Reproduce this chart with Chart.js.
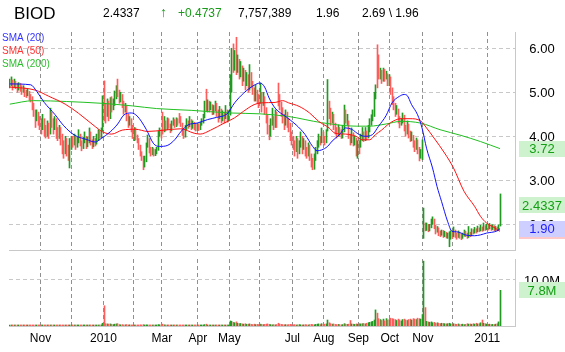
<!DOCTYPE html>
<html>
<head>
<meta charset="utf-8">
<script src="https://cdn.jsdelivr.net/npm/chart.js@4.4.1/dist/chart.umd.min.js"></script>
<style>
    html, body { margin: 0; padding: 0; background: #fff; }
    #wrap { position: relative; width: 565px; height: 352px; overflow: hidden; }
    #wrap canvas { position: absolute; left: 0; top: 0; }
</style>
</head>
<body>
<div id="wrap">
    <canvas id="priceChart" width="565" height="352"></canvas>
    <canvas id="volumeChart" width="565" height="352"></canvas>
</div>
<script>
// BIOD daily bars, Oct 2009 - Jan 2011 (one entry per trading day)

const ticker = "BIOD";
const lastPrice = "2.4337";
const lastChange = "+0.4737";
const lastVolume = "7,757,389";
const prevClose = "1.96";
const dayRange = "2.69 \\ 1.96";

// first trading day of each month (index into the bar arrays) and its label
const monthIdx = [21, 42, 63, 83, 102, 126, 147, 167, 189, 210, 233, 254, 276, 296, 319];
const monthLabels = ["Nov", "", "2010", "", "Mar", "Apr", "May", "", "Jul", "Aug", "Sep", "Oct", "Nov", "", "2011"];
const priceTicks = [2, 3, 4, 5, 6];
const volumeTicks = [10];

const opens = [
    5.15,5.20,5.25,5.15,5.22,5.18,5.10,5.16,5.12,5.05,5.08,4.98,4.95,5.00,4.90,4.85,4.70,4.55,4.40,4.48,4.35,
    4.30,4.20,4.35,4.15,4.05,4.25,4.10,4.45,4.30,4.20,4.35,4.15,4.00,4.10,3.95,3.80,3.65,3.85,3.70,3.60,3.75,
    3.90,3.85,3.95,3.80,3.90,4.00,3.85,3.75,3.90,3.95,3.80,3.90,4.05,3.85,3.80,3.90,3.85,3.95,4.05,4.00,4.15,5.00,
    4.60,4.50,4.70,4.50,4.80,4.65,4.75,4.90,5.05,4.95,4.85,4.90,4.75,4.60,4.65,4.45,4.30,4.35,4.20,4.10,
    4.15,4.00,3.90,3.75,3.60,3.50,3.35,3.45,3.80,3.90,3.70,3.65,3.70,3.60,3.65,3.70,4.05,4.10,4.45,
    4.15,4.30,4.20,4.35,4.25,4.15,4.30,4.35,4.25,4.38,4.48,4.40,4.28,4.10,4.00,4.20,4.30,4.25,4.35,4.20,4.30,4.25,4.18,
    4.22,4.20,4.28,4.35,4.45,4.95,4.60,4.75,4.65,4.70,4.55,4.62,4.70,4.55,4.45,4.60,4.40,4.50,4.45,4.55,4.40,
    4.50,5.30,5.90,5.60,5.80,5.50,5.65,5.40,5.55,5.30,5.45,5.20,5.35,5.10,5.40,5.20,5.05,4.85,5.00,4.90,
    4.80,4.95,4.75,4.85,4.60,4.45,4.20,4.05,4.30,4.40,4.25,4.50,5.10,4.90,4.75,4.55,4.45,4.30,4.50,4.35,4.25,4.05,
    3.95,3.85,3.70,3.90,3.65,3.80,3.95,3.75,3.85,3.70,3.60,3.75,3.55,3.45,3.40,3.50,3.65,3.80,3.95,3.90,4.05,3.95,
    3.90,4.15,4.75,4.50,4.35,4.45,4.25,4.15,4.05,4.15,4.10,4.00,4.12,4.55,4.30,4.30,4.00,3.90,4.05,3.85,3.95,3.70,
    3.85,3.80,3.95,4.05,3.95,4.10,4.00,4.15,4.30,4.40,4.50,4.90,5.95,5.80,5.40,5.45,5.30,5.50,5.35,5.40,5.25,5.30,
    5.05,4.85,4.70,4.55,4.60,4.40,4.30,4.35,4.45,4.20,4.10,4.25,4.05,3.95,4.00,3.85,3.75,3.90,3.70,3.55,3.65,
    1.80,2.00,1.90,1.97,1.88,1.95,2.05,2.10,1.95,1.85,1.90,1.80,1.78,1.85,1.75,1.80,1.72,1.62,1.70,1.80,1.75,
    1.82,1.78,1.72,1.80,1.76,1.70,1.75,1.82,1.78,1.72,1.80,1.76,1.85,1.82,1.88,1.84,1.90,1.86,1.92,1.88,1.95,1.90,
    1.96,1.92,1.98,1.90,1.95,1.88,1.92,1.87,1.98
];

const highs = [
    5.30,5.35,5.28,5.30,5.25,5.20,5.22,5.20,5.15,5.15,5.10,5.05,5.08,5.02,4.95,4.90,4.75,4.60,4.60,4.55,4.45,
    4.40,4.50,4.40,4.25,4.35,4.30,4.64,4.55,4.40,4.45,4.40,4.20,4.25,4.20,4.05,3.90,4.00,3.95,3.80,3.95,4.00,
    4.00,4.05,4.00,3.98,4.15,4.05,3.90,3.98,4.10,4.00,3.98,4.19,4.10,3.92,4.00,3.95,4.05,4.15,4.12,4.19,4.92,5.26,
    4.75,4.85,4.80,4.88,4.90,4.85,5.03,5.15,5.30,5.05,5.00,4.95,4.80,4.75,4.70,4.50,4.45,4.40,4.25,4.20,
    4.19,4.03,3.95,3.80,3.65,3.55,3.55,3.85,4.03,3.95,3.75,3.75,3.72,3.70,3.75,4.12,4.19,4.15,4.55,
    4.45,4.35,4.42,4.40,4.28,4.35,4.42,4.38,4.42,4.40,4.52,4.45,4.30,4.15,4.25,4.40,4.35,4.45,4.38,4.35,4.32,4.28,4.30,
    4.28,4.32,4.40,4.50,4.80,5.07,4.83,4.80,4.78,4.72,4.70,4.80,4.75,4.60,4.68,4.62,4.58,4.55,4.70,4.60,4.58,
    5.40,6.00,6.10,5.95,6.25,5.85,5.75,5.70,5.60,5.55,5.50,5.45,5.40,5.63,5.45,5.25,5.10,5.17,5.05,4.95,
    5.21,5.00,5.00,4.90,4.65,4.50,4.25,4.40,4.64,4.45,4.60,4.55,5.21,4.95,4.78,4.65,4.50,4.60,4.55,4.40,4.30,4.10,
    4.00,3.90,4.00,3.95,3.90,4.10,4.00,3.95,3.90,3.75,3.85,3.80,3.60,3.50,3.60,3.75,3.90,4.05,4.00,4.19,4.10,4.00,
    4.15,5.29,4.80,4.64,4.55,4.50,4.30,4.20,4.26,4.20,4.15,4.25,4.71,4.60,4.50,4.35,4.05,4.19,4.08,4.00,3.96,3.90,
    3.90,4.05,4.20,4.10,4.20,4.12,4.25,4.40,4.49,4.60,5.00,5.17,6.08,5.85,5.55,5.50,5.55,5.52,5.48,5.42,5.40,5.35,
    5.10,4.90,4.75,4.70,4.62,4.45,4.40,4.53,4.48,4.25,4.35,4.28,4.12,4.10,4.02,3.90,3.96,3.92,3.75,3.70,3.92,
    2.37,2.03,2.03,2.00,2.00,2.12,2.17,2.12,1.98,1.95,1.92,1.85,1.87,1.86,1.84,1.82,1.80,1.83,1.85,1.83,1.94,
    1.87,1.80,1.85,1.82,1.78,1.80,1.87,1.84,1.80,1.95,1.82,1.90,1.88,1.93,1.90,1.96,1.92,1.98,1.94,2.03,1.97,2.00,
    1.99,2.02,1.99,1.99,1.97,1.95,1.94,1.99,2.69
];

const lows = [
    5.10,5.15,5.05,5.12,5.08,5.00,5.05,5.02,4.95,5.00,4.90,4.88,4.92,4.82,4.78,4.60,4.45,4.20,4.35,4.25,4.15,
    4.05,4.15,4.00,3.96,4.00,3.95,4.05,4.20,4.05,4.15,3.95,3.90,3.95,3.80,3.60,3.50,3.60,3.55,3.45,3.28,3.70,
    3.75,3.80,3.70,3.75,3.85,3.78,3.67,3.72,3.85,3.72,3.76,3.85,3.80,3.72,3.76,3.78,3.82,3.90,3.95,3.96,4.12,4.35,
    4.30,4.45,4.35,4.40,4.55,4.60,4.70,4.85,4.90,4.75,4.78,4.65,4.50,4.55,4.35,4.20,4.25,4.10,3.95,3.90,
    3.92,3.85,3.70,3.55,3.45,3.24,3.30,3.42,3.75,3.62,3.55,3.58,3.55,3.56,3.60,3.68,4.00,3.96,4.05,
    4.10,4.12,4.15,4.18,4.08,4.12,4.25,4.20,4.22,4.25,4.30,4.22,4.02,3.95,3.98,4.15,4.18,4.22,4.15,4.18,4.15,4.12,4.13,
    4.13,4.15,4.25,4.30,4.42,4.57,4.55,4.55,4.60,4.49,4.50,4.58,4.45,4.32,4.40,4.30,4.35,4.30,4.40,4.32,4.35,
    4.48,5.00,5.45,5.50,5.40,5.45,5.30,5.35,5.15,5.25,5.05,5.15,5.00,5.05,5.10,4.95,4.80,4.80,4.75,4.65,
    4.75,4.55,4.70,4.50,4.30,4.05,3.92,4.00,4.25,4.15,4.20,4.20,4.69,4.60,4.45,4.30,4.15,4.25,4.20,4.10,3.90,3.80,
    3.70,3.55,3.65,3.50,3.60,3.75,3.60,3.70,3.55,3.50,3.55,3.45,3.30,3.24,3.25,3.45,3.60,3.75,3.80,3.85,3.85,3.80,
    3.85,4.12,4.40,4.25,4.30,4.15,4.05,3.96,4.00,4.00,3.95,3.96,4.10,4.30,4.25,3.95,3.80,3.85,3.78,3.80,3.55,3.50,
    3.60,3.75,3.90,3.88,3.90,3.92,3.96,4.10,4.25,4.35,4.45,4.85,5.10,5.30,5.30,5.20,5.25,5.25,5.30,5.15,5.15,4.95,
    4.72,4.60,4.45,4.50,4.30,4.19,4.25,4.30,4.12,4.00,4.05,3.96,3.88,3.90,3.75,3.65,3.70,3.60,3.44,3.50,3.47,
    1.68,1.85,1.86,1.83,1.85,1.92,2.00,1.90,1.78,1.82,1.74,1.72,1.75,1.70,1.72,1.69,1.68,1.49,1.66,1.68,1.72,
    1.70,1.66,1.70,1.68,1.65,1.68,1.73,1.72,1.68,1.70,1.72,1.74,1.78,1.80,1.80,1.83,1.83,1.85,1.84,1.86,1.86,1.88,
    1.87,1.90,1.86,1.88,1.85,1.86,1.85,1.86,1.96
];

const closes = [
    5.20,5.25,5.15,5.22,5.18,5.10,5.16,5.12,5.05,5.08,4.98,4.95,5.00,4.90,4.85,4.70,4.55,4.40,4.48,4.35,4.30,
    4.20,4.35,4.15,4.05,4.25,4.10,4.45,4.30,4.20,4.35,4.15,4.00,4.10,3.95,3.80,3.65,3.85,3.70,3.60,3.75,3.90,
    3.85,3.95,3.80,3.90,4.00,3.85,3.75,3.90,3.95,3.80,3.90,4.05,3.85,3.80,3.90,3.85,3.95,4.05,4.00,4.10,4.85,4.60,
    4.50,4.70,4.55,4.80,4.65,4.75,4.90,5.05,4.95,4.85,4.90,4.75,4.60,4.65,4.45,4.30,4.35,4.20,4.10,4.15,
    4.00,3.90,3.75,3.60,3.50,3.35,3.45,3.80,3.90,3.70,3.65,3.70,3.60,3.65,3.70,4.05,4.10,4.00,4.15,
    4.30,4.20,4.35,4.25,4.15,4.30,4.35,4.25,4.38,4.30,4.40,4.28,4.10,4.00,4.20,4.30,4.25,4.35,4.20,4.30,4.25,4.18,4.22,
    4.20,4.28,4.35,4.45,4.70,4.60,4.75,4.65,4.70,4.55,4.62,4.70,4.55,4.45,4.60,4.40,4.50,4.45,4.55,4.40,4.50,
    5.30,5.90,5.60,5.75,5.50,5.65,5.40,5.55,5.30,5.45,5.20,5.35,5.10,5.40,5.20,5.05,4.85,5.00,4.90,4.80,
    4.95,4.75,4.85,4.60,4.45,4.20,4.05,4.30,4.40,4.25,4.50,4.35,4.90,4.75,4.55,4.45,4.30,4.50,4.35,4.25,4.05,3.95,
    3.85,3.70,3.90,3.65,3.80,3.95,3.75,3.85,3.70,3.60,3.75,3.55,3.45,3.40,3.50,3.65,3.80,3.95,3.90,4.05,3.95,3.90,
    4.10,4.75,4.50,4.35,4.45,4.25,4.15,4.05,4.15,4.10,4.00,4.12,4.55,4.40,4.30,4.00,3.90,4.05,3.85,3.95,3.70,3.85,
    3.80,3.95,4.05,3.95,4.10,4.00,4.15,4.30,4.40,4.50,4.90,5.10,5.80,5.40,5.45,5.30,5.50,5.35,5.40,5.25,5.30,5.05,
    4.85,4.70,4.55,4.60,4.40,4.30,4.35,4.45,4.20,4.10,4.25,4.05,3.95,4.00,3.85,3.75,3.90,3.70,3.55,3.65,3.85,
    2.00,1.92,1.97,1.88,1.95,2.05,2.10,1.95,1.85,1.90,1.80,1.78,1.85,1.75,1.80,1.72,1.76,1.70,1.80,1.75,1.82,
    1.78,1.72,1.80,1.76,1.70,1.75,1.82,1.78,1.72,1.80,1.76,1.85,1.82,1.88,1.84,1.90,1.86,1.92,1.88,1.95,1.90,1.96,
    1.92,1.98,1.90,1.95,1.88,1.92,1.87,1.96,2.4337
];

// volume in millions of shares
const volumes = [
    0.10,0.08,0.12,0.06,0.10,0.05,0.08,0.10,0.12,0.06,0.08,0.10,0.15,0.08,0.10,0.12,0.15,0.20,0.10,0.12,0.15,
    0.12,0.10,0.08,0.10,0.12,0.08,0.15,0.10,0.08,0.10,0.12,0.10,0.08,0.10,0.12,0.15,0.10,0.12,0.15,0.20,0.15,
    0.12,0.10,0.15,0.10,0.08,0.12,0.10,0.15,0.12,0.10,0.08,0.12,0.10,0.12,0.15,0.10,0.12,0.20,0.15,0.25,0.60,4.40,
    0.50,0.45,0.40,0.45,0.35,0.30,0.40,0.45,0.50,0.30,0.25,0.30,0.20,0.25,0.30,0.20,0.25,0.20,0.15,0.20,
    0.20,0.15,0.20,0.25,0.20,0.30,0.15,0.25,0.20,0.15,0.12,0.10,0.12,0.10,0.15,0.30,0.25,0.20,0.40,
    0.25,0.20,0.15,0.12,0.10,0.12,0.15,0.10,0.12,0.10,0.15,0.10,0.20,0.15,0.12,0.10,0.15,0.12,0.10,0.12,0.10,0.15,0.10,
    0.10,0.12,0.15,0.20,0.30,0.40,0.20,0.15,0.12,0.10,0.12,0.15,0.10,0.12,0.10,0.15,0.12,0.10,0.15,0.12,0.20,
    1.10,1.00,0.80,0.70,0.90,0.60,0.50,0.55,0.45,0.40,0.50,0.35,0.40,0.45,0.35,0.30,0.40,0.30,0.35,0.30,
    0.40,0.35,0.30,0.35,0.40,0.45,0.35,0.30,0.25,0.30,0.25,0.30,0.60,0.40,0.35,0.30,0.25,0.30,0.25,0.30,0.35,0.30,
    0.25,0.30,0.20,0.25,0.30,0.25,0.20,0.25,0.30,0.25,0.20,0.30,0.35,0.30,0.25,0.35,0.40,0.45,0.30,0.50,0.35,0.40,
    0.45,1.30,0.70,0.50,0.40,0.45,0.35,0.30,0.35,0.30,0.25,0.30,0.50,0.40,0.35,0.40,1.20,0.45,0.40,0.35,0.45,0.40,
    0.50,0.45,0.50,0.55,0.45,0.60,0.70,0.80,0.90,1.00,1.30,3.50,2.80,1.60,1.40,1.20,1.50,1.10,1.60,1.30,1.40,1.70,
    1.60,1.50,1.40,1.20,1.50,1.30,1.10,1.40,1.50,1.30,1.20,1.40,1.50,1.30,1.60,1.50,1.40,1.70,1.60,1.50,2.50,
    14.10,4.00,1.00,0.90,0.80,0.90,0.70,0.80,0.60,0.70,0.60,0.50,0.60,0.55,0.50,0.45,0.50,0.60,0.45,0.40,0.50,
    0.40,0.35,0.45,0.30,0.35,0.40,0.30,0.35,0.50,0.40,0.45,0.35,0.50,0.40,0.60,0.45,0.50,0.70,1.30,0.60,0.50,0.40,
    0.35,0.40,0.30,0.35,0.30,0.40,0.50,0.90,7.757389
];

// moving averages: [bar index, value]
const sma20 = [
    [0,5.19],[14,5.17],[18,5.02],[23,4.77],[30,4.50],[36,4.24],[43,4.03],[51,3.93],[57,3.87],[61,3.95],
    [67,4.10],[72,4.28],[76,4.48],[81,4.53],[85,4.46],[91,4.16],[96,3.83],[100,3.77],[105,3.79],[110,3.92],
    [114,4.10],[119,4.26],[125,4.30],[132,4.38],[138,4.43],[145,4.51],[150,4.76],[156,4.98],[163,5.16],[167,5.21],
    [170,5.12],[173,4.87],[177,4.64],[184,4.45],[191,4.26],[197,4.04],[202,3.77],[205,3.67],[208,3.69],[212,3.77],
    [215,3.89],[220,4.04],[224,4.19],[228,4.16],[233,4.04],[237,4.00],[242,4.04],[246,4.23],[251,4.47],[255,4.76],
    [260,4.91],[263,4.95],[265,4.93],[268,4.72],[272,4.49],[275,4.19],[278,3.73],[282,3.28],[285,2.86],[288,2.52],
    [292,2.07],[295,1.84],[298,1.83],[305,1.75],[310,1.74],[314,1.76],[318,1.80],[325,1.85],[327,1.90]
];
const sma50 = [
    [0,5.12],[17,5.05],[26,4.91],[37,4.73],[46,4.52],[57,4.22],[62,4.10],[68,4.05],[75,4.14],[84,4.16],
    [92,4.11],[103,4.14],[114,4.17],[123,4.07],[127,4.05],[134,4.14],[143,4.30],[150,4.42],[156,4.57],[163,4.72],
    [168,4.76],[177,4.77],[182,4.81],[186,4.76],[193,4.68],[200,4.53],[206,4.34],[213,4.19],[217,4.07],[224,4.05],
    [231,4.00],[235,3.92],[240,3.92],[244,4.04],[248,4.14],[252,4.26],[256,4.35],[261,4.40],[267,4.40],[274,4.35],
    [278,4.19],[283,3.96],[290,3.62],[296,3.28],[303,2.75],[310,2.41],[314,2.18],[318,2.03],[323,1.93],[327,1.84]
];
const sma200 = [
    [0,4.73],[16,4.81],[38,4.79],[61,4.75],[82,4.69],[98,4.63],[121,4.59],[147,4.53],[167,4.51],[186,4.45],
    [208,4.31],[231,4.23],[240,4.23],[251,4.28],[261,4.34],[274,4.30],[287,4.15],[301,4.02],[314,3.88],[327,3.72]
];

const UP = "#229a22";
const DOWN = "#ff5c5c";
const FONT = '"Liberation Sans", Arial, sans-serif';

const barColors = closes.map((c, i) => c >= opens[i] ? UP : DOWN);

// snap 1px bars onto whole pixels so they stay crisp
const snapBars = {
    id: "snapBars",
    beforeDatasetDraw(chart, args) {
        if (args.meta.type !== "bar") return;
        args.meta.data.forEach(el => { el.x = Math.floor(el.x) + 0.5; });
    }
};

function badge(ctx, yPix, text, fill, color) {
    ctx.fillStyle = fill;
    ctx.fillRect(519, Math.round(yPix) - 8, 46, 16);
    ctx.fillStyle = color;
    ctx.font = "13px " + FONT;
    ctx.textAlign = "center";
    ctx.fillText(text, 542, yPix + 1);
}

const priceText = {
    id: "priceText",
    afterDraw(chart) {
        const { ctx } = chart;
        const y = chart.scales.y;
        ctx.save();
        ctx.textBaseline = "middle";
        ctx.textAlign = "left";

        // header line
        ctx.fillStyle = "#000";
        ctx.font = "17px " + FONT;
        ctx.fillText(ticker, 14, 14);
        ctx.font = "12px " + FONT;
        ctx.fillText(lastPrice, 103, 14);
        ctx.fillStyle = "#1a9a1a";
        ctx.font = "bold 14px " + FONT;
        ctx.fillText("\u2191", 160, 13);
        ctx.font = "12px " + FONT;
        ctx.fillText(lastChange, 178, 14);
        ctx.fillStyle = "#000";
        ctx.fillText(lastVolume, 238, 14);
        ctx.fillText(prevClose, 316, 14);
        ctx.fillText(dayRange, 362, 14);

        // legend
        ctx.font = "10px " + FONT;
        ctx.fillStyle = "#3535ff";
        ctx.fillText("SMA (20)", 2, 38);
        ctx.fillStyle = "#ff3535";
        ctx.fillText("SMA (50)", 2, 51);
        ctx.fillStyle = "#2cbf2c";
        ctx.fillText("SMA (200)", 2, 64);

        // right axis labels
        ctx.fillStyle = "#000";
        ctx.font = "13px " + FONT;
        ctx.textAlign = "center";
        priceTicks.forEach(v => ctx.fillText(v.toFixed(2), 542, y.getPixelForValue(v) + 1));

        // last value badges
        const s200 = sma200[sma200.length - 1][1];
        const s50 = sma50[sma50.length - 1][1];
        const s20 = sma20[sma20.length - 1][1];
        const last = closes[closes.length - 1];
        badge(ctx, y.getPixelForValue(s200), s200.toFixed(2), "#cdf2cd", "#14a014");
        badge(ctx, y.getPixelForValue(last), lastPrice, "#cdf2cd", "#14a014");
        badge(ctx, y.getPixelForValue(s50), s50.toFixed(2), "#ffc8c8", "#ff2020");
        badge(ctx, y.getPixelForValue(s20), s20.toFixed(2), "#cfcfff", "#2020ff");
        ctx.restore();
    }
};

const volumeText = {
    id: "volumeText",
    afterDraw(chart) {
        const { ctx } = chart;
        const x = chart.scales.x;
        const y = chart.scales.y;
        ctx.save();
        ctx.textBaseline = "middle";
        ctx.textAlign = "center";
        ctx.fillStyle = "#000";
        ctx.font = "12px " + FONT;
        monthIdx.forEach((m, i) => {
            if (monthLabels[i]) ctx.fillText(monthLabels[i], x.getPixelForValue(m - 0.5), 339);
        });
        ctx.font = "13px " + FONT;
        volumeTicks.forEach(v => ctx.fillText(v.toFixed(1) + "M", 542, y.getPixelForValue(v) + 1));
        const lastVol = volumes[volumes.length - 1];
        badge(ctx, y.getPixelForValue(lastVol), lastVol.toFixed(1) + "M", "#cdf2cd", "#14a014");
        ctx.restore();
    }
};

function monthAxis() {
    return {
        type: "linear",
        min: -0.5,
        max: 337,
        offset: false,
        afterBuildTicks: s => { s.ticks = monthIdx.map(m => ({ value: m - 0.5 })); },
        ticks: { display: false },
        grid: { color: "#909090", drawTicks: false, offset: false },
        border: { display: true, color: "#c8c8c8", dash: [4, 3] }
    };
}

function valueAxis(min, max, ticks) {
    return {
        type: "linear",
        position: "right",
        min: min,
        max: max,
        afterBuildTicks: s => { s.ticks = ticks.map(v => ({ value: v })); },
        ticks: { display: false },
        grid: { color: "#c8c8c8", drawTicks: false },
        border: { display: true, color: "#c8c8c8", dash: [4, 3] }
    };
}

const baseOptions = {
    responsive: false,
    maintainAspectRatio: false,
    devicePixelRatio: 1,
    animation: false,
    events: [],
    plugins: { legend: { display: false }, tooltip: { enabled: false } }
};

const smaLine = (pts, color, order) => ({
    type: "line",
    data: pts.map(([x, y]) => ({ x, y })),
    borderColor: color,
    borderWidth: 1,
    pointRadius: 0,
    cubicInterpolationMode: "monotone",
    order: order
});

new Chart(document.getElementById("priceChart"), {
    type: "bar",
    data: {
        datasets: [
            smaLine(sma20, "#1010ff", 0),
            smaLine(sma50, "#ff1010", 1),
            smaLine(sma200, "#20c020", 2),
            {
                type: "bar",
                data: closes.map((c, i) => ({ x: i, y: [lows[i], highs[i]] })),
                backgroundColor: barColors,
                barThickness: 1,
                grouped: false,
                order: 3
            }
        ]
    },
    options: {
        ...baseOptions,
        layout: { padding: { left: 9, right: 50, top: 32, bottom: 102 } },
        scales: { x: monthAxis(), y: valueAxis(1.416, 6.37, priceTicks) }
    },
    plugins: [snapBars, priceText]
});

new Chart(document.getElementById("volumeChart"), {
    type: "bar",
    data: {
        datasets: [{
            data: volumes.map((v, i) => ({ x: i, y: v })),
            backgroundColor: barColors,
            barThickness: 1,
            minBarLength: 1,
            grouped: false
        }]
    },
    options: {
        ...baseOptions,
        layout: { padding: { left: 9, right: 50, top: 259, bottom: 26 } },
        scales: { x: monthAxis(), y: valueAxis(0, 14.565, volumeTicks) }
    },
    plugins: [snapBars, volumeText]
});
</script>
</body>
</html>
